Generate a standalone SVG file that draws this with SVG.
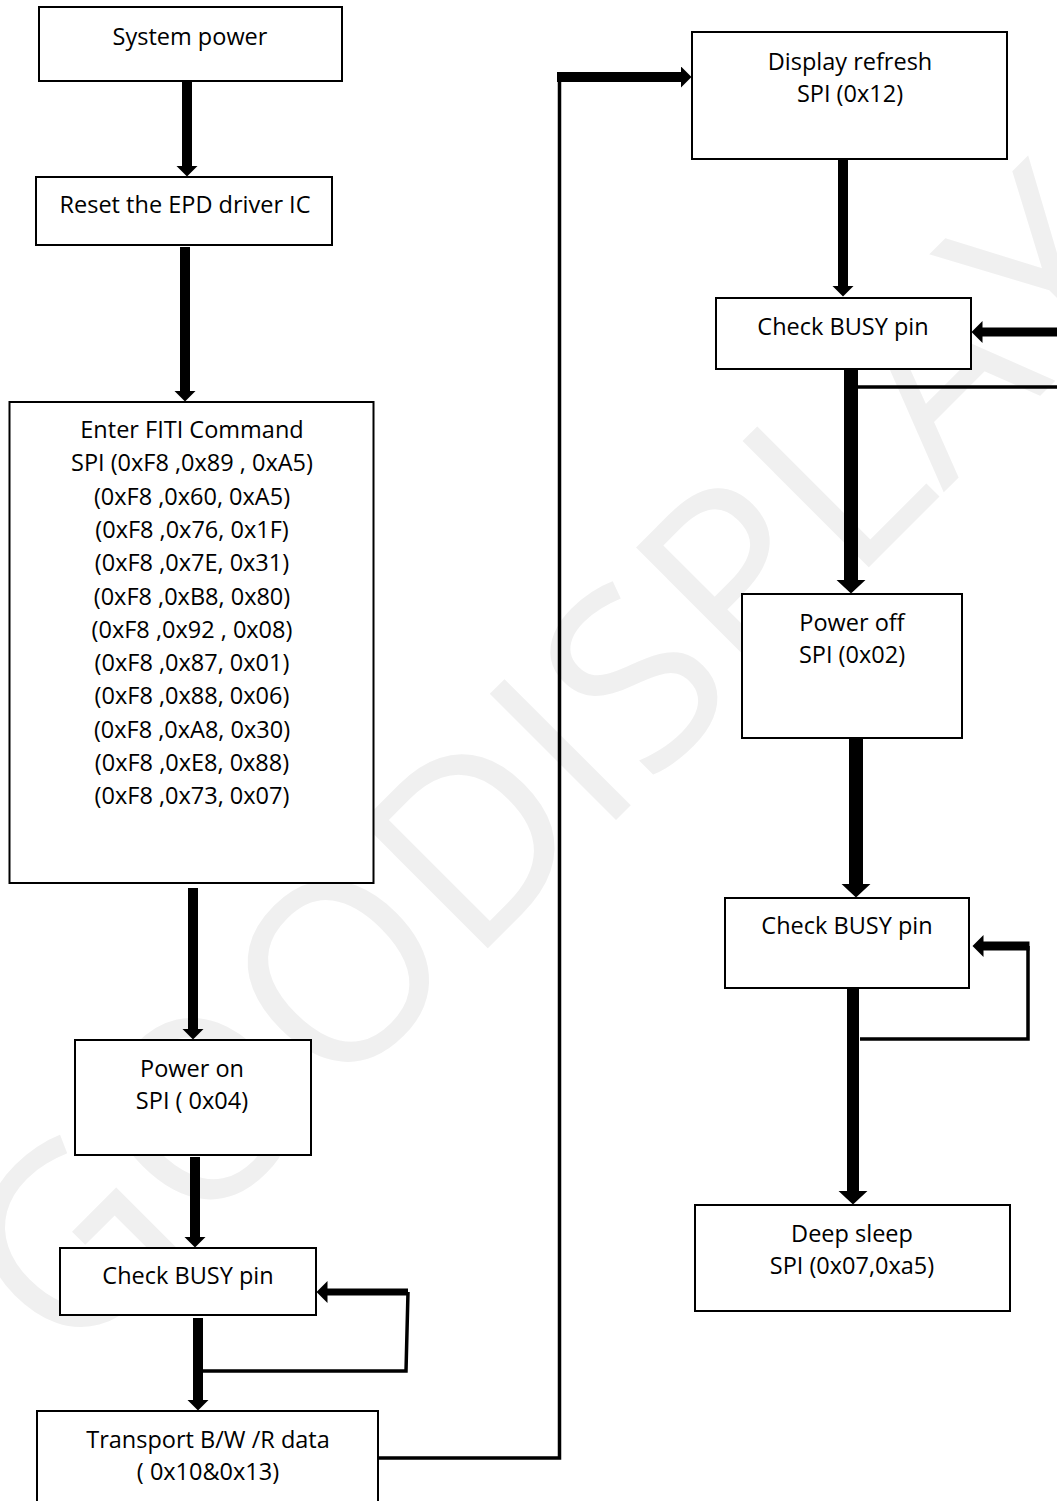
<svg xmlns="http://www.w3.org/2000/svg" width="1057" height="1501" viewBox="0 0 1057 1501">
<style>
.box{fill:#fff;stroke:#000;stroke-width:2}
.t{font-family:"Open Sans","Noto Sans","Liberation Sans",sans-serif;font-size:23.5px;fill:#000;text-anchor:middle}
.thin{fill:none;stroke:#000;stroke-width:3.5}
.wm{font-family:"Open Sans","Noto Sans",sans-serif;font-size:250px;font-weight:400;fill:#f0f0f0}
</style>
<defs>
<marker id="ah" markerUnits="userSpaceOnUse" markerWidth="12" markerHeight="22" viewBox="0 0 12 22" refX="0.5" refY="11" orient="auto"><path d="M0,0 L11,11 L0,22 Z" fill="#000"/></marker>
<marker id="ahL" markerUnits="userSpaceOnUse" markerWidth="15" markerHeight="30" viewBox="0 0 15 30" refX="0.5" refY="15" orient="auto"><path d="M0,0 L14,15 L0,30 Z" fill="#000"/></marker>
</defs>
<rect width="1057" height="1501" fill="#fff"/>
<text class="wm" x="67" y="1369" transform="rotate(-45 67 1369)">GOODISPLAY</text>

<g id="n-system-power"><rect class="box" x="39" y="7" width="303" height="74"/><text class="t" x="190" y="45">System power</text></g>
<g id="n-reset"><rect class="box" x="36" y="177" width="296" height="68"/><text class="t" x="185" y="213">Reset the EPD driver IC</text></g>
<g id="n-fiti"><rect class="box" x="9.5" y="402" width="364" height="481"/>
<text class="t" x="192" y="438">Enter FITI Command</text>
<text class="t" x="192" y="471.3">SPI (0xF8 ,0x89 , 0xA5)</text>
<text class="t" x="192" y="504.6">(0xF8 ,0x60, 0xA5)</text>
<text class="t" x="192" y="537.9">(0xF8 ,0x76, 0x1F)</text>
<text class="t" x="192" y="571.2">(0xF8 ,0x7E, 0x31)</text>
<text class="t" x="192" y="604.5">(0xF8 ,0xB8, 0x80)</text>
<text class="t" x="192" y="637.8">(0xF8 ,0x92 , 0x08)</text>
<text class="t" x="192" y="671.1">(0xF8 ,0x87, 0x01)</text>
<text class="t" x="192" y="704.4">(0xF8 ,0x88, 0x06)</text>
<text class="t" x="192" y="737.7">(0xF8 ,0xA8, 0x30)</text>
<text class="t" x="192" y="771">(0xF8 ,0xE8, 0x88)</text>
<text class="t" x="192" y="804.3">(0xF8 ,0x73, 0x07)</text>
</g>
<g id="n-power-on"><rect class="box" x="75" y="1040" width="236" height="115"/><text class="t" x="192" y="1077">Power on</text><text class="t" x="192" y="1109">SPI ( 0x04)</text></g>
<g id="n-busy1"><rect class="box" x="60" y="1248" width="256" height="67"/><text class="t" x="188" y="1284">Check BUSY pin</text></g>
<g id="n-transport"><rect class="box" x="37" y="1411" width="341" height="100"/><text class="t" x="208" y="1448">Transport B/W /R data</text><text class="t" x="208" y="1480">( 0x10&amp;0x13)</text></g>
<g id="n-refresh"><rect class="box" x="692" y="32" width="315" height="127"/><text class="t" x="850" y="70">Display refresh</text><text class="t" x="850" y="102">SPI (0x12)</text></g>
<g id="n-busy2"><rect class="box" x="716" y="298" width="255" height="71"/><text class="t" x="843" y="335">Check BUSY pin</text></g>
<g id="n-power-off"><rect class="box" x="742" y="594" width="220" height="144"/><text class="t" x="852" y="631">Power off</text><text class="t" x="852" y="663">SPI (0x02)</text></g>
<g id="n-busy3"><rect class="box" x="725" y="898" width="244" height="90"/><text class="t" x="847" y="934">Check BUSY pin</text></g>
<g id="n-deep-sleep"><rect class="box" x="695" y="1205" width="315" height="106"/><text class="t" x="852" y="1242">Deep sleep</text><text class="t" x="852" y="1274">SPI (0x07,0xa5)</text></g>

<g id="connectors" stroke="#000" fill="none">
<line x1="187" y1="81" x2="187" y2="166" stroke-width="10" marker-end="url(#ah)"/>
<line x1="185" y1="247" x2="185" y2="391" stroke-width="10" marker-end="url(#ah)"/>
<line x1="193" y1="888" x2="193" y2="1029" stroke-width="10" marker-end="url(#ah)"/>
<line x1="195" y1="1157" x2="195" y2="1237" stroke-width="10" marker-end="url(#ah)"/>
<line x1="198" y1="1318" x2="198" y2="1400" stroke-width="10" marker-end="url(#ah)"/>
<path class="thin" d="M198,1371 H406 L408,1292"/>
<line x1="408" y1="1292" x2="327" y2="1292" stroke-width="7" marker-end="url(#ah)"/>
<path class="thin" d="M378,1458 H559.5 V77"/>
<line x1="557" y1="77" x2="681" y2="77" stroke-width="10" marker-end="url(#ah)"/>
<line x1="843" y1="159" x2="843" y2="286" stroke-width="10" marker-end="url(#ah)"/>
<line x1="1062" y1="332" x2="982" y2="332" stroke-width="9" marker-end="url(#ah)"/>
<path class="thin" d="M858,387 H1062"/>
<line x1="851" y1="369" x2="851" y2="580" stroke-width="14" marker-end="url(#ahL)"/>
<line x1="856" y1="738" x2="856" y2="884" stroke-width="14" marker-end="url(#ahL)"/>
<path class="thin" d="M860,1039 H1028 V946"/>
<line x1="1029.5" y1="946" x2="983" y2="946" stroke-width="9" marker-end="url(#ah)"/>
<line x1="853" y1="988" x2="853" y2="1191" stroke-width="12" marker-end="url(#ahL)"/>
</g>
</svg>
